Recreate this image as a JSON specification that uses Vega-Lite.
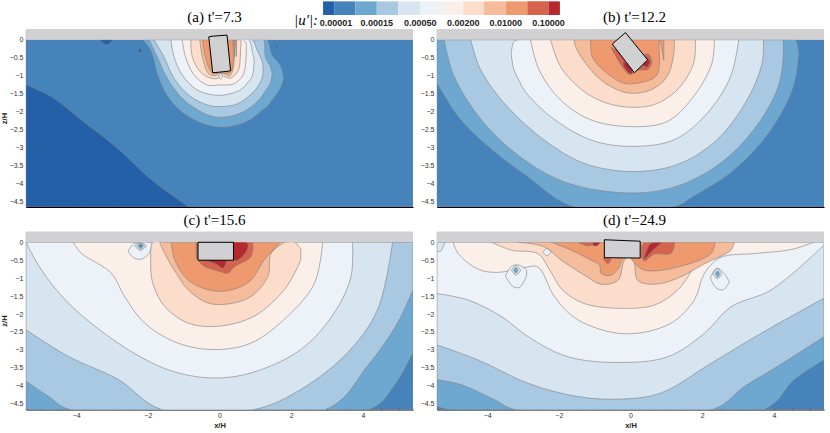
{
  "$schema": "https://vega.github.io/schema/vega-lite/v6.json",
  "padding": {"left": 0, "top": 1, "right": 7, "bottom": 2},
  "background": "white",
  "columns": 2,
  "bounds": "flush",
  "spacing": {"column": 24, "row": 24.5},
  "config": {
    "view": {"stroke": null},
    "title": {"font": "Liberation Serif", "fontSize": 15, "fontWeight": "normal", "color": "black", "offset": 4},
    "axis": {"grid": false, "domainColor": "black", "domainWidth": 1.2, "tickColor": "black", "tickWidth": 0.7, "labelFont": "Liberation Sans", "labelFontSize": 7, "labelColor": "#333333", "titleFont": "Liberation Sans", "titleFontSize": 7.5, "titleFontWeight": "bold", "titleColor": "#222222", "zindex": 1}
  },
  "datasets": {
    "band": [{"x": -5.4, "x2": 5.4, "z": 0, "t": 0.3}],
    "bar": [
      {"l":0,"x":2.89,"x2":3.2,"z":1.07,"t":0.69},{"l":1,"x":3.2,"x2":3.79,"z":1.07,"t":0.69},{"l":2,"x":3.79,"x2":4.39,"z":1.07,"t":0.69},{"l":3,"x":4.39,"x2":4.99,"z":1.07,"t":0.69},{"l":4,"x":4.99,"x2":5.6,"z":1.07,"t":0.69},{"l":5,"x":5.6,"x2":6.2,"z":1.07,"t":0.69},{"l":6,"x":6.2,"x2":6.8,"z":1.07,"t":0.69},{"l":7,"x":6.8,"x2":7.38,"z":1.07,"t":0.69},{"l":8,"x":7.38,"x2":7.99,"z":1.07,"t":0.69},{"l":9,"x":7.99,"x2":8.59,"z":1.07,"t":0.69},{"l":10,"x":8.59,"x2":9.18,"z":1.07,"t":0.69},{"l":11,"x":9.18,"x2":9.5,"z":1.07,"t":0.69}
    ],
    "barLabels": [
      {"x":3.25,"z":0.46,"label":"0.00001"},{"x":4.39,"z":0.46,"label":"0.00015"},{"x":5.6,"z":0.46,"label":"0.00050"},{"x":6.8,"z":0.46,"label":"0.00200"},{"x":7.99,"z":0.46,"label":"0.01000"},{"x":9.18,"z":0.46,"label":"0.10000"}
    ],
    "barName": [{"x":2.75,"z":0.55,"label":"|u′|:"}],
    "a": [
      {"s":0,"l":1,"x":-5.4,"z":-4.66,"t":0},{"s":0,"l":1,"x":5.4,"z":-4.66,"t":0},
      {"s":1,"l":0,"x":-5.4,"z":-4.66,"t":-1.26},{"s":1,"l":0,"x":-4.7,"z":-4.66,"t":-1.58},{"s":1,"l":0,"x":-3.8,"z":-4.66,"t":-2.28},{"s":1,"l":0,"x":-2.85,"z":-4.66,"t":-3.02},{"s":1,"l":0,"x":-1.9,"z":-4.66,"t":-3.9},{"s":1,"l":0,"x":-0.85,"z":-4.66,"t":-4.66},
      {"s":2,"l":0,"x":-3.32,"z":-0.02,"t":0},{"s":2,"l":0,"x":-3.15,"z":-0.14,"t":0},{"s":2,"l":0,"x":-2.98,"z":-0.02,"t":0},
      {"s":3,"l":0,"x":-2.27,"z":-0.3,"t":-0.3},{"s":3,"l":0,"x":-2.22,"z":-0.36,"t":-0.24},{"s":3,"l":0,"x":-2.17,"z":-0.3,"t":-0.3},
      {"s":4,"l":0,"x":1.57,"z":-0.2,"t":-0.2},{"s":4,"l":0,"x":1.6,"z":-0.24,"t":-0.16},{"s":4,"l":0,"x":1.63,"z":-0.2,"t":-0.2},
      {"s":5,"l":2,"x":-2.15,"z":0,"t":0},{"s":5,"l":2,"x":-1.92,"z":-0.29,"t":0},{"s":5,"l":2,"x":-1.74,"z":-0.93,"t":0},{"s":5,"l":2,"x":-1.55,"z":-1.4,"t":0},{"s":5,"l":2,"x":-1.18,"z":-1.9,"t":0},{"s":5,"l":2,"x":-0.71,"z":-2.23,"t":0},{"s":5,"l":2,"x":-0.16,"z":-2.42,"t":0},{"s":5,"l":2,"x":0.21,"z":-2.43,"t":0},{"s":5,"l":2,"x":0.77,"z":-2.28,"t":0},{"s":5,"l":2,"x":1.2,"z":-1.96,"t":0},{"s":5,"l":2,"x":1.33,"z":-1.86,"t":0},{"s":5,"l":2,"x":1.47,"z":-1.68,"t":-0.43},{"s":5,"l":2,"x":1.7,"z":-1.35,"t":-0.72},{"s":5,"l":2,"x":1.79,"z":-1.07,"t":-1.07},
      {"s":6,"l":3,"x":-1.97,"z":0,"t":0},{"s":6,"l":3,"x":-1.74,"z":-0.47,"t":0},{"s":6,"l":3,"x":-1.46,"z":-1.07,"t":0},{"s":6,"l":3,"x":-0.99,"z":-1.68,"t":0},{"s":6,"l":3,"x":-0.34,"z":-2.09,"t":0},{"s":6,"l":3,"x":0.03,"z":-2.16,"t":0},{"s":6,"l":3,"x":0.58,"z":-2.05,"t":0},{"s":6,"l":3,"x":1.1,"z":-1.68,"t":0},{"s":6,"l":3,"x":1.23,"z":-1.5,"t":0},{"s":6,"l":3,"x":1.28,"z":-1.42,"t":-0.47},{"s":6,"l":3,"x":1.42,"z":-1.21,"t":-0.75},{"s":6,"l":3,"x":1.47,"z":-0.95,"t":-0.95},
      {"s":7,"l":4,"x":-1.83,"z":0,"t":0},{"s":7,"l":4,"x":-1.55,"z":-0.47,"t":0},{"s":7,"l":4,"x":-1.27,"z":-1.07,"t":0},{"s":7,"l":4,"x":-0.81,"z":-1.58,"t":0},{"s":7,"l":4,"x":-0.25,"z":-1.84,"t":0},{"s":7,"l":4,"x":0.03,"z":-1.86,"t":0},{"s":7,"l":4,"x":0.49,"z":-1.79,"t":0},{"s":7,"l":4,"x":0.91,"z":-1.49,"t":0},{"s":7,"l":4,"x":1.05,"z":-1.33,"t":-0.29},{"s":7,"l":4,"x":1.19,"z":-1.07,"t":-0.6},{"s":7,"l":4,"x":1.22,"z":-0.85,"t":-0.85},
      {"s":8,"l":5,"x":-1.36,"z":0,"t":0},{"s":8,"l":5,"x":-1.27,"z":-0.47,"t":0},{"s":8,"l":5,"x":-1.04,"z":-0.98,"t":0},{"s":8,"l":5,"x":-0.62,"z":-1.4,"t":0},{"s":8,"l":5,"x":-0.16,"z":-1.54,"t":0},{"s":8,"l":5,"x":0.12,"z":-1.54,"t":0},{"s":8,"l":5,"x":0.58,"z":-1.4,"t":0},{"s":8,"l":5,"x":0.82,"z":-1.15,"t":0},{"s":8,"l":5,"x":0.91,"z":-1.03,"t":-0.3},{"s":8,"l":5,"x":0.97,"z":-0.6,"t":-0.6},
      {"s":9,"l":6,"x":-1.04,"z":0,"t":0},{"s":9,"l":6,"x":-0.95,"z":-0.47,"t":0},{"s":9,"l":6,"x":-0.71,"z":-0.98,"t":0},{"s":9,"l":6,"x":-0.34,"z":-1.26,"t":0},{"s":9,"l":6,"x":0,"z":-1.26,"t":0},{"s":9,"l":6,"x":0.4,"z":-1.23,"t":0},{"s":9,"l":6,"x":0.66,"z":-0.98,"t":0},{"s":9,"l":6,"x":0.74,"z":-0.5,"t":-0.1},{"s":9,"l":6,"x":0.75,"z":-0.2,"t":-0.2},
      {"s":10,"l":7,"x":-0.8,"z":0,"t":0},{"s":10,"l":7,"x":-0.76,"z":-0.47,"t":0},{"s":10,"l":7,"x":-0.54,"z":-0.89,"t":0},{"s":10,"l":7,"x":-0.25,"z":-1.07,"t":0},{"s":10,"l":7,"x":-0.03,"z":-1.07,"t":0},{"s":10,"l":7,"x":0.03,"z":-0.98,"t":0},{"s":10,"l":7,"x":0.3,"z":-1.07,"t":0},{"s":10,"l":7,"x":0.53,"z":-0.84,"t":0},{"s":10,"l":7,"x":0.58,"z":-0.47,"t":0},{"s":10,"l":7,"x":0.6,"z":0,"t":0},
      {"s":11,"l":8,"x":-0.55,"z":0,"t":0},{"s":11,"l":8,"x":-0.48,"z":-0.47,"t":0},{"s":11,"l":8,"x":-0.3,"z":-0.95,"t":0},{"s":11,"l":8,"x":-0.1,"z":-1,"t":0},{"s":11,"l":8,"x":0.03,"z":-0.9,"t":0},{"s":11,"l":8,"x":0.3,"z":-1,"t":0},{"s":11,"l":8,"x":0.47,"z":-0.47,"t":0},{"s":11,"l":8,"x":0.46,"z":0,"t":0},
      {"s":12,"l":9,"x":-0.47,"z":0,"t":0},{"s":12,"l":9,"x":-0.4,"z":-0.47,"t":0},{"s":12,"l":9,"x":-0.2,"z":-0.93,"t":0},{"s":12,"l":9,"x":-0.02,"z":-0.93,"t":0},{"s":12,"l":9,"x":0.32,"z":-0.9,"t":0},{"s":12,"l":9,"x":0.42,"z":-0.47,"t":0},{"s":12,"l":9,"x":0.38,"z":0,"t":0},
      {"s":13,"l":5,"x":-0.02,"z":-1.02,"t":-1.02},{"s":13,"l":5,"x":0.03,"z":-1.1,"t":-0.93},{"s":13,"l":5,"x":0.08,"z":-1.02,"t":-1.02}
    ],
    "b": [
      {"s":0,"l":1,"x":-5.4,"z":-4.66,"t":0},{"s":0,"l":1,"x":5.4,"z":-4.66,"t":0},
      {"s":1,"l":2,"x":-5.4,"z":-1.21,"t":0},{"s":1,"l":2,"x":-4.74,"z":-2.23,"t":0},{"s":1,"l":2,"x":-3.81,"z":-3.11,"t":0},{"s":1,"l":2,"x":-2.88,"z":-3.81,"t":0},{"s":1,"l":2,"x":-1.58,"z":-4.66,"t":0},{"s":1,"l":2,"x":1.21,"z":-4.66,"t":0},{"s":1,"l":2,"x":1.76,"z":-4.36,"t":0},{"s":1,"l":2,"x":2.79,"z":-3.71,"t":0},{"s":1,"l":2,"x":3.71,"z":-2.79,"t":0},{"s":1,"l":2,"x":4.36,"z":-1.77,"t":0},{"s":1,"l":2,"x":4.6,"z":-1.1,"t":0},{"s":1,"l":2,"x":4.7,"z":-0.4,"t":-0.4},
      {"s":2,"l":3,"x":-5.2,"z":0,"t":0},{"s":2,"l":3,"x":-4.92,"z":-1.03,"t":0},{"s":2,"l":3,"x":-4.09,"z":-2.32,"t":0},{"s":2,"l":3,"x":-2.97,"z":-3.34,"t":0},{"s":2,"l":3,"x":-1.76,"z":-3.99,"t":0},{"s":2,"l":3,"x":0,"z":-4.27,"t":0},{"s":2,"l":3,"x":1.3,"z":-4.08,"t":0},{"s":2,"l":3,"x":2.51,"z":-3.44,"t":0},{"s":2,"l":3,"x":3.44,"z":-2.51,"t":0},{"s":2,"l":3,"x":4.09,"z":-1.4,"t":0},{"s":2,"l":3,"x":4.25,"z":-0.66,"t":0},{"s":2,"l":3,"x":4.26,"z":0,"t":0},
      {"s":3,"l":4,"x":-4.46,"z":0,"t":0},{"s":3,"l":4,"x":-4.18,"z":-0.84,"t":0},{"s":3,"l":4,"x":-3.44,"z":-1.86,"t":0},{"s":3,"l":4,"x":-2.41,"z":-2.79,"t":0},{"s":3,"l":4,"x":-1.3,"z":-3.44,"t":0},{"s":3,"l":4,"x":0,"z":-3.67,"t":0},{"s":3,"l":4,"x":1.3,"z":-3.48,"t":0},{"s":3,"l":4,"x":2.41,"z":-2.79,"t":0},{"s":3,"l":4,"x":3.25,"z":-1.68,"t":0},{"s":3,"l":4,"x":3.67,"z":-0.66,"t":0},{"s":3,"l":4,"x":3.71,"z":0,"t":0},
      {"s":4,"l":5,"x":-3.33,"z":-0.4,"t":-0.4},{"s":4,"l":5,"x":-3.25,"z":-0.85,"t":-0.05},{"s":4,"l":5,"x":-3.1,"z":-1.15,"t":0},{"s":4,"l":5,"x":-2.97,"z":-1.4,"t":0},{"s":4,"l":5,"x":-2.23,"z":-2.14,"t":0},{"s":4,"l":5,"x":-1.11,"z":-2.79,"t":0},{"s":4,"l":5,"x":0,"z":-2.97,"t":0},{"s":4,"l":5,"x":1.21,"z":-2.79,"t":0},{"s":4,"l":5,"x":2.14,"z":-2.05,"t":0},{"s":4,"l":5,"x":2.79,"z":-1.03,"t":0},{"s":4,"l":5,"x":3.02,"z":0,"t":0},
      {"s":5,"l":6,"x":-2.79,"z":0,"t":0},{"s":5,"l":6,"x":-2.55,"z":-0.84,"t":0},{"s":5,"l":6,"x":-1.95,"z":-1.68,"t":0},{"s":5,"l":6,"x":-1.11,"z":-2.23,"t":0},{"s":5,"l":6,"x":0,"z":-2.42,"t":0},{"s":5,"l":6,"x":1.02,"z":-2.28,"t":0},{"s":5,"l":6,"x":1.76,"z":-1.58,"t":0},{"s":5,"l":6,"x":2.27,"z":-0.66,"t":0},{"s":5,"l":6,"x":2.34,"z":0,"t":0},
      {"s":6,"l":7,"x":-2.23,"z":0,"t":0},{"s":6,"l":7,"x":-1.95,"z":-0.75,"t":0},{"s":6,"l":7,"x":-1.3,"z":-1.44,"t":0},{"s":6,"l":7,"x":-0.65,"z":-1.77,"t":0},{"s":6,"l":7,"x":0,"z":-1.88,"t":0},{"s":6,"l":7,"x":0.65,"z":-1.81,"t":0},{"s":6,"l":7,"x":1.3,"z":-1.4,"t":0},{"s":6,"l":7,"x":1.76,"z":-0.66,"t":0},{"s":6,"l":7,"x":1.81,"z":0,"t":0},
      {"s":7,"l":8,"x":-1.58,"z":0,"t":0},{"s":7,"l":8,"x":-1.49,"z":-0.29,"t":0},{"s":7,"l":8,"x":-0.93,"z":-1.03,"t":0},{"s":7,"l":8,"x":-0.46,"z":-1.35,"t":0},{"s":7,"l":8,"x":0,"z":-1.49,"t":0},{"s":7,"l":8,"x":0.56,"z":-1.4,"t":0},{"s":7,"l":8,"x":1.02,"z":-1.03,"t":0},{"s":7,"l":8,"x":1.21,"z":-0.38,"t":0},{"s":7,"l":8,"x":1.22,"z":0,"t":0},
      {"s":8,"l":9,"x":-1.11,"z":0,"t":0},{"s":8,"l":9,"x":-1.07,"z":-0.47,"t":0},{"s":8,"l":9,"x":-0.65,"z":-0.94,"t":0},{"s":8,"l":9,"x":-0.19,"z":-1.21,"t":0},{"s":8,"l":9,"x":0.19,"z":-1.21,"t":0},{"s":8,"l":9,"x":0.74,"z":-0.98,"t":0},{"s":8,"l":9,"x":0.93,"z":-0.56,"t":0},{"s":8,"l":9,"x":0.8,"z":0,"t":0},
      {"s":9,"l":10,"x":-0.55,"z":-0.2,"t":-0.2},{"s":9,"l":10,"x":-0.25,"z":-0.72,"t":-0.4},{"s":9,"l":10,"x":-0.02,"z":-0.97,"t":-0.7},{"s":9,"l":10,"x":0.2,"z":-0.85,"t":-0.5},{"s":9,"l":10,"x":0.5,"z":-0.82,"t":-0.4},{"s":9,"l":10,"x":0.6,"z":-0.62,"t":-0.62},
      {"s":10,"l":11,"x":-0.2,"z":-0.72,"t":-0.6},{"s":10,"l":11,"x":-0.05,"z":-0.92,"t":-0.7},{"s":10,"l":11,"x":0.05,"z":-0.95,"t":-0.8},
      {"s":11,"l":11,"x":0.35,"z":-0.72,"t":-0.5},{"s":11,"l":11,"x":0.47,"z":-0.76,"t":-0.5},{"s":11,"l":11,"x":0.55,"z":-0.62,"t":-0.62}
    ],
    "c": [
      {"s":0,"l":1,"x":-5.4,"z":-4.66,"t":0},{"s":0,"l":1,"x":5.4,"z":-4.66,"t":0},
      {"s":1,"l":2,"x":-5.4,"z":-4.66,"t":0},{"s":1,"l":2,"x":4.18,"z":-4.66,"t":0},{"s":1,"l":2,"x":4.87,"z":-4.01,"t":0},{"s":1,"l":2,"x":5.4,"z":-3.08,"t":0},
      {"s":2,"l":3,"x":-5.4,"z":-3.87,"t":0},{"s":2,"l":3,"x":-4.78,"z":-4.29,"t":0},{"s":2,"l":3,"x":-4.18,"z":-4.66,"t":0},{"s":2,"l":3,"x":2.97,"z":-4.66,"t":0},{"s":2,"l":3,"x":4.13,"z":-3.45,"t":0},{"s":2,"l":3,"x":4.97,"z":-2.25,"t":0},{"s":2,"l":3,"x":5.4,"z":-1.32,"t":0},
      {"s":3,"l":4,"x":-5.4,"z":-2.44,"t":0},{"s":3,"l":4,"x":-4.22,"z":-3.18,"t":0},{"s":3,"l":4,"x":-2.83,"z":-3.82,"t":0},{"s":3,"l":4,"x":-1.62,"z":-4.66,"t":0},{"s":3,"l":4,"x":0.97,"z":-4.66,"t":0},{"s":3,"l":4,"x":2.27,"z":-4.1,"t":0},{"s":3,"l":4,"x":3.57,"z":-3.08,"t":0},{"s":3,"l":4,"x":4.41,"z":-1.88,"t":0},{"s":3,"l":4,"x":4.83,"z":0,"t":0},
      {"s":4,"l":5,"x":-5.4,"z":0,"t":0},{"s":4,"l":5,"x":-4.97,"z":-0.77,"t":0},{"s":4,"l":5,"x":-4.22,"z":-1.69,"t":0},{"s":4,"l":5,"x":-2.83,"z":-2.81,"t":0},{"s":4,"l":5,"x":-1.44,"z":-3.55,"t":0},{"s":4,"l":5,"x":-0.23,"z":-3.78,"t":0},{"s":4,"l":5,"x":0.88,"z":-3.64,"t":0},{"s":4,"l":5,"x":2.27,"z":-2.99,"t":0},{"s":4,"l":5,"x":3.2,"z":-1.97,"t":0},{"s":4,"l":5,"x":3.67,"z":-0.95,"t":0},{"s":4,"l":5,"x":3.71,"z":0,"t":0},
      {"s":5,"l":6,"x":-4.09,"z":0,"t":0},{"s":5,"l":6,"x":-3.85,"z":-0.31,"t":0},{"s":5,"l":6,"x":-3.02,"z":-0.86,"t":0},{"s":5,"l":6,"x":-2.65,"z":-1.51,"t":0},{"s":5,"l":6,"x":-2.09,"z":-2.25,"t":0},{"s":5,"l":6,"x":-1.16,"z":-2.81,"t":0},{"s":5,"l":6,"x":-0.14,"z":-2.99,"t":0},{"s":5,"l":6,"x":0.88,"z":-2.81,"t":0},{"s":5,"l":6,"x":1.9,"z":-2.06,"t":0},{"s":5,"l":6,"x":2.65,"z":-1.14,"t":0},{"s":5,"l":6,"x":2.88,"z":0,"t":0},
      {"s":6,"l":5,"x":-2.55,"z":-0.25,"t":-0.25},{"s":6,"l":5,"x":-2.4,"z":-0.43,"t":-0.05},{"s":6,"l":5,"x":-2.2,"z":-0.47,"t":0},{"s":6,"l":5,"x":-2,"z":-0.35,"t":0},{"s":6,"l":5,"x":-1.86,"z":-0.03,"t":-0.03},
      {"s":7,"l":4,"x":-2.37,"z":-0.1,"t":-0.1},{"s":7,"l":4,"x":-2.2,"z":-0.23,"t":0},{"s":7,"l":4,"x":-2.04,"z":-0.1,"t":-0.1},
      {"s":8,"l":3,"x":-2.3,"z":-0.1,"t":-0.1},{"s":8,"l":3,"x":-2.2,"z":-0.19,"t":-0.02},{"s":8,"l":3,"x":-2.1,"z":-0.1,"t":-0.1},
      {"s":9,"l":1,"x":-2.25,"z":-0.1,"t":-0.1},{"s":9,"l":1,"x":-2.2,"z":-0.15,"t":-0.05},{"s":9,"l":1,"x":-2.15,"z":-0.1,"t":-0.1},
      {"s":10,"l":7,"x":-1.92,"z":-0.7,"t":-0.3},{"s":10,"l":7,"x":-1.86,"z":-1.15,"t":0},{"s":10,"l":7,"x":-1.53,"z":-1.79,"t":0},{"s":10,"l":7,"x":-0.88,"z":-2.25,"t":0},{"s":10,"l":7,"x":-0.05,"z":-2.34,"t":0},{"s":10,"l":7,"x":0.97,"z":-2.06,"t":0},{"s":10,"l":7,"x":1.81,"z":-1.32,"t":0},{"s":10,"l":7,"x":2.1,"z":-0.85,"t":0},{"s":10,"l":7,"x":2.27,"z":-0.49,"t":-0.2},
      {"s":11,"l":8,"x":-1.67,"z":0,"t":0},{"s":11,"l":8,"x":-1.53,"z":-0.31,"t":0},{"s":11,"l":8,"x":-1.21,"z":-0.86,"t":0},{"s":11,"l":8,"x":-0.88,"z":-1.32,"t":0},{"s":11,"l":8,"x":-0.33,"z":-1.69,"t":0},{"s":11,"l":8,"x":0.23,"z":-1.72,"t":0},{"s":11,"l":8,"x":0.88,"z":-1.51,"t":0},{"s":11,"l":8,"x":1.35,"z":-0.95,"t":0},{"s":11,"l":8,"x":1.44,"z":-0.31,"t":0},{"s":11,"l":8,"x":1.81,"z":0,"t":0},
      {"s":12,"l":9,"x":-1.35,"z":0,"t":0},{"s":12,"l":9,"x":-1.25,"z":-0.49,"t":0},{"s":12,"l":9,"x":-0.88,"z":-1.05,"t":0},{"s":12,"l":9,"x":-0.33,"z":-1.32,"t":0},{"s":12,"l":9,"x":0.23,"z":-1.35,"t":0},{"s":12,"l":9,"x":0.84,"z":-1.09,"t":0},{"s":12,"l":9,"x":1.25,"z":-0.49,"t":0},{"s":12,"l":9,"x":1.67,"z":-0.03,"t":0},
      {"s":13,"l":10,"x":-0.65,"z":-0.44,"t":0},{"s":13,"l":10,"x":-0.44,"z":-0.66,"t":0},{"s":13,"l":10,"x":0,"z":-0.81,"t":0},{"s":13,"l":10,"x":0.23,"z":-0.86,"t":0},{"s":13,"l":10,"x":0.42,"z":-0.68,"t":0},{"s":13,"l":10,"x":0.88,"z":-0.4,"t":0},{"s":13,"l":10,"x":0.93,"z":-0.03,"t":0},
      {"s":14,"l":11,"x":-0.6,"z":-0.45,"t":0},{"s":14,"l":11,"x":-0.1,"z":-0.6,"t":0},{"s":14,"l":11,"x":0.1,"z":-0.72,"t":0},{"s":14,"l":11,"x":0.23,"z":-0.5,"t":0},{"s":14,"l":11,"x":0.5,"z":-0.5,"t":0.05},{"s":14,"l":11,"x":0.75,"z":-0.25,"t":0.03},{"s":14,"l":11,"x":0.8,"z":-0.1,"t":-0.1}
    ],
    "d": [
      {"s":0,"l":1,"x":-5.4,"z":-4.66,"t":0},{"s":0,"l":1,"x":5.4,"z":-4.66,"t":0},
      {"s":1,"l":2,"x":-5.4,"z":-4.57,"t":0},{"s":1,"l":2,"x":-5.09,"z":-4.66,"t":0},{"s":1,"l":2,"x":3.73,"z":-4.66,"t":0},{"s":1,"l":2,"x":4.57,"z":-3.83,"t":0},{"s":1,"l":2,"x":5.4,"z":-3.28,"t":0},
      {"s":2,"l":3,"x":-5.4,"z":-3.83,"t":0},{"s":2,"l":3,"x":-4.72,"z":-3.97,"t":0},{"s":2,"l":3,"x":-3.79,"z":-4.39,"t":0},{"s":2,"l":3,"x":-3.23,"z":-4.66,"t":0},{"s":2,"l":3,"x":2.29,"z":-4.66,"t":0},{"s":2,"l":3,"x":3.18,"z":-4.02,"t":0},{"s":2,"l":3,"x":4.1,"z":-3.46,"t":0},{"s":2,"l":3,"x":5.4,"z":-2.63,"t":0},
      {"s":3,"l":4,"x":-5.4,"z":-2.86,"t":0},{"s":3,"l":4,"x":-4.25,"z":-3.28,"t":0},{"s":3,"l":4,"x":-2.86,"z":-3.93,"t":0},{"s":3,"l":4,"x":-1.47,"z":-4.3,"t":0},{"s":3,"l":4,"x":-0.26,"z":-4.37,"t":0},{"s":3,"l":4,"x":0.85,"z":-4.2,"t":0},{"s":3,"l":4,"x":2.25,"z":-3.37,"t":0},{"s":3,"l":4,"x":3.64,"z":-2.54,"t":0},{"s":3,"l":4,"x":5.4,"z":-1.56,"t":0},
      {"s":4,"l":5,"x":-5.4,"z":-1.43,"t":0},{"s":4,"l":5,"x":-4.53,"z":-1.61,"t":0},{"s":4,"l":5,"x":-3.6,"z":-2.07,"t":0},{"s":4,"l":5,"x":-2.86,"z":-2.63,"t":0},{"s":4,"l":5,"x":-1.75,"z":-3.19,"t":0},{"s":4,"l":5,"x":-0.26,"z":-3.35,"t":0},{"s":4,"l":5,"x":1.04,"z":-3.19,"t":0},{"s":4,"l":5,"x":2.06,"z":-2.54,"t":0},{"s":4,"l":5,"x":2.8,"z":-1.8,"t":0},{"s":4,"l":5,"x":3.92,"z":-1.33,"t":0},{"s":4,"l":5,"x":5.4,"z":-0.08,"t":0},
      {"s":5,"l":4,"x":-5.4,"z":-0.25,"t":0},{"s":5,"l":4,"x":-5.3,"z":-0.25,"t":0},{"s":5,"l":4,"x":-5.18,"z":0,"t":0},
      {"s":6,"l":6,"x":-4.95,"z":0,"t":0},{"s":6,"l":6,"x":-4.81,"z":-0.31,"t":0},{"s":6,"l":6,"x":-4.25,"z":-0.75,"t":0},{"s":6,"l":6,"x":-3.7,"z":-0.84,"t":0},{"s":6,"l":6,"x":-2.95,"z":-0.7,"t":0},{"s":6,"l":6,"x":-2.58,"z":-0.69,"t":0},{"s":6,"l":6,"x":-2.12,"z":-1.52,"t":0},{"s":6,"l":6,"x":-1.47,"z":-2.16,"t":0},{"s":6,"l":6,"x":-0.17,"z":-2.55,"t":0},{"s":6,"l":6,"x":1.1,"z":-2.27,"t":0},{"s":6,"l":6,"x":1.78,"z":-1.61,"t":0},{"s":6,"l":6,"x":2.06,"z":-0.87,"t":0},{"s":6,"l":6,"x":2.5,"z":-0.43,"t":0},{"s":6,"l":6,"x":3.5,"z":-0.31,"t":0},{"s":6,"l":6,"x":4.5,"z":-0.2,"t":0},{"s":6,"l":6,"x":5.1,"z":0,"t":0},
      {"s":7,"l":5,"x":-3.49,"z":-0.93,"t":-0.93},{"s":7,"l":5,"x":-3.3,"z":-1.22,"t":-0.66},{"s":7,"l":5,"x":-3.1,"z":-1.26,"t":-0.64},{"s":7,"l":5,"x":-2.9,"z":-0.93,"t":-0.78},
      {"s":8,"l":4,"x":-3.32,"z":-0.78,"t":-0.78},{"s":8,"l":4,"x":-3.2,"z":-0.92,"t":-0.64},{"s":8,"l":4,"x":-3.06,"z":-0.78,"t":-0.78},
      {"s":9,"l":2,"x":-3.26,"z":-0.78,"t":-0.78},{"s":9,"l":2,"x":-3.2,"z":-0.86,"t":-0.7},{"s":9,"l":2,"x":-3.14,"z":-0.78,"t":-0.78},
      {"s":10,"l":5,"x":2.23,"z":-1,"t":-1},{"s":10,"l":5,"x":2.4,"z":-1.28,"t":-0.72},{"s":10,"l":5,"x":2.6,"z":-1.32,"t":-0.85},{"s":10,"l":5,"x":2.76,"z":-1.1,"t":-1.1},
      {"s":11,"l":4,"x":2.3,"z":-0.88,"t":-0.88},{"s":11,"l":4,"x":2.42,"z":-1.02,"t":-0.73},{"s":11,"l":4,"x":2.55,"z":-0.88,"t":-0.88},
      {"s":12,"l":2,"x":2.37,"z":-0.88,"t":-0.88},{"s":12,"l":2,"x":2.43,"z":-0.97,"t":-0.8},{"s":12,"l":2,"x":2.49,"z":-0.88,"t":-0.88},
      {"s":13,"l":7,"x":-3.88,"z":0,"t":0},{"s":13,"l":7,"x":-3.32,"z":-0.22,"t":0},{"s":13,"l":7,"x":-2.58,"z":-0.32,"t":0},{"s":13,"l":7,"x":-2.25,"z":-0.78,"t":0},{"s":13,"l":7,"x":-1.9,"z":-1.33,"t":0},{"s":13,"l":7,"x":-1.28,"z":-1.71,"t":0},{"s":13,"l":7,"x":-0.26,"z":-1.84,"t":0},{"s":13,"l":7,"x":0.67,"z":-1.75,"t":0},{"s":13,"l":7,"x":1.32,"z":-1.33,"t":0},{"s":13,"l":7,"x":1.88,"z":-0.6,"t":0},{"s":13,"l":7,"x":2.3,"z":-0.4,"t":0},{"s":13,"l":7,"x":2.9,"z":0,"t":0},
      {"s":14,"l":5,"x":-2.45,"z":-0.27,"t":-0.27},{"s":14,"l":5,"x":-2.33,"z":-0.38,"t":-0.17},{"s":14,"l":5,"x":-2.22,"z":-0.27,"t":-0.27},
      {"s":15,"l":8,"x":-3.14,"z":0,"t":0},{"s":15,"l":8,"x":-2.4,"z":-0.13,"t":0},{"s":15,"l":8,"x":-1.93,"z":-0.5,"t":0},{"s":15,"l":8,"x":-1.28,"z":-0.92,"t":0},{"s":15,"l":8,"x":-0.82,"z":-1.17,"t":0},{"s":15,"l":8,"x":-0.35,"z":-1.06,"t":0},{"s":15,"l":8,"x":-0.17,"z":-0.5,"t":0},{"s":15,"l":8,"x":-0.02,"z":-0.4,"t":0},{"s":15,"l":8,"x":0.1,"z":-0.55,"t":0},{"s":15,"l":8,"x":0.2,"z":-1.06,"t":0},{"s":15,"l":8,"x":0.67,"z":-1.17,"t":0},{"s":15,"l":8,"x":1.32,"z":-1,"t":0},{"s":15,"l":8,"x":2.06,"z":-0.6,"t":0},{"s":15,"l":8,"x":2.8,"z":-0.22,"t":0},{"s":15,"l":8,"x":2.9,"z":0,"t":0},
      {"s":16,"l":9,"x":-2.21,"z":0,"t":0},{"s":16,"l":9,"x":-1.65,"z":-0.22,"t":0},{"s":16,"l":9,"x":-1.1,"z":-0.5,"t":0},{"s":16,"l":9,"x":-0.86,"z":-0.64,"t":0},{"s":16,"l":9,"x":-0.82,"z":-0.87,"t":0},{"s":16,"l":9,"x":-0.54,"z":-0.92,"t":0},{"s":16,"l":9,"x":-0.31,"z":-0.69,"t":0},{"s":16,"l":9,"x":-0.24,"z":-0.5,"t":0},{"s":16,"l":9,"x":-0.07,"z":-0.4,"t":0},{"s":16,"l":9,"x":0.13,"z":-0.59,"t":0},{"s":16,"l":9,"x":0.39,"z":-0.78,"t":0},{"s":16,"l":9,"x":1.32,"z":-0.69,"t":0},{"s":16,"l":9,"x":2.25,"z":-0.31,"t":0},{"s":16,"l":9,"x":2.36,"z":0,"t":0},
      {"s":17,"l":10,"x":-1.47,"z":0,"t":0},{"s":17,"l":10,"x":-1.19,"z":-0.1,"t":0},{"s":17,"l":10,"x":-0.91,"z":-0.04,"t":0},
      {"s":18,"l":10,"x":-0.77,"z":-0.45,"t":-0.45},{"s":18,"l":10,"x":-0.63,"z":-0.6,"t":-0.42},{"s":18,"l":10,"x":-0.54,"z":-0.48,"t":-0.48},
      {"s":19,"l":10,"x":0.3,"z":-0.4,"t":-0.1},{"s":19,"l":10,"x":0.39,"z":-0.52,"t":-0.02},{"s":19,"l":10,"x":0.67,"z":-0.33,"t":0},{"s":19,"l":10,"x":1.13,"z":-0.31,"t":0},{"s":19,"l":10,"x":1.23,"z":-0.03,"t":0},
      {"s":20,"l":11,"x":0.39,"z":-0.48,"t":-0.4},{"s":20,"l":11,"x":0.55,"z":-0.3,"t":-0.05},{"s":20,"l":11,"x":0.7,"z":-0.15,"t":0},{"s":20,"l":11,"x":0.85,"z":-0.03,"t":0},
      {"s":21,"l":11,"x":-1.05,"z":-0.08,"t":0},{"s":21,"l":11,"x":-0.95,"z":-0.1,"t":0},{"s":21,"l":11,"x":-0.85,"z":-0.02,"t":0}
    ],
    "boxA": [{"x":-0.3,"z":0.08,"t":0.08},{"x":-0.19,"z":-0.92,"t":0.1},{"x":0.21,"z":-0.88,"t":0.13},{"x":0.31,"z":-0.86,"t":-0.86}],
    "boxB": [{"x":-0.51,"z":-0.12,"t":-0.12},{"x":-0.14,"z":-0.6,"t":0.2},{"x":0.11,"z":-0.92,"t":-0.11},{"x":0.48,"z":-0.56,"t":-0.56}],
    "boxC": [{"x":-0.6,"z":-0.5,"t":0},{"x":0.39,"z":-0.5,"t":0}],
    "boxD": [{"x":-0.73,"z":-0.43,"t":0.07},{"x":0.27,"z":-0.44,"t":0.03}]
  },
  "concat": [
    {
      "width": 387, "height": 178,
      "title": {"text": "(a) t'=7.3", "offset": -24, "dx": -5},
      "encoding": {
        "x": {"field": "x", "type": "quantitative", "scale": {"domain": [-5.4, 5.4], "nice": false, "zero": false}, "axis": {"title": null, "labels": false, "values": [-5,-4.5,-4,-3.5,-3,-2.5,-2,-1.5,-1,-0.5,0,0.5,1,1.5,2,2.5,3,3.5,4,4.5,5], "tickSize": {"condition": {"test": "datum.value%2===0", "value": -5}, "value": -2.5}}},
        "y": {"field": "z", "type": "quantitative", "stack": null, "scale": {"domain": [-4.66, 0.3], "nice": false, "zero": false}, "axis": {"title": "z/H", "titlePadding": 1, "values": [0,-0.5,-1,-1.5,-2,-2.5,-3,-3.5,-4,-4.5], "format": "~g", "tickSize": -3, "labelPadding": 6}}
      },
      "layer": [
        {
          "data": {"name": "a"},
          "mark": {"type": "area", "interpolate": "catmull-rom", "clip": true, "stroke": "#808080", "strokeWidth": 0.6},
          "encoding": {
            "y2": {"field": "t"},
            "color": {"field": "l", "type": "ordinal", "legend": null, "scale": {"domain": [0,1,2,3,4,5,6,7,8,9,10,11], "range": ["#2360a8","#4683bb","#6ea8d0","#a9c9e3","#d7e5f0","#ecf2f7","#fbefea","#fcdcca","#f5bc9c","#ef9a6e","#d6634d","#b5282e"]}},
            "detail": {"field": "s"}
          }
        },
        {
          "data": {"name": "band"},
          "mark": {"type": "rect", "color": "#d1d0d3"},
          "encoding": {"x2": {"field": "x2"}, "y2": {"field": "t"}}
        },
        {
          "data": {"name": "boxA"},
          "mark": {"type": "area", "color": "#d1d0d3", "stroke": "black", "strokeWidth": 1},
          "encoding": {"y2": {"field": "t"}}
        },
        {
          "data": {"name": "bar"},
          "mark": {"type": "rect"},
          "encoding": {"x2": {"field": "x2"}, "y2": {"field": "t"}, "color": {"field": "l", "type": "ordinal", "legend": null, "scale": {"domain": [0,1,2,3,4,5,6,7,8,9,10,11], "range": ["#2360a8","#4683bb","#6ea8d0","#a9c9e3","#d7e5f0","#ecf2f7","#fbefea","#fcdcca","#f5bc9c","#ef9a6e","#d6634d","#b5282e"]}}}
        },
        {
          "data": {"name": "barLabels"},
          "mark": {"type": "text", "font": "Liberation Sans", "fontSize": 9, "fontWeight": "bold", "color": "#222222"},
          "encoding": {"text": {"field": "label"}}
        },
        {
          "data": {"name": "barName"},
          "mark": {"type": "text", "font": "Liberation Serif", "fontSize": 15, "fontStyle": "italic", "align": "right", "color": "black"},
          "encoding": {"text": {"field": "label"}}
        }
      ]
    },
    {
      "width": 387, "height": 178,
      "title": {"text": "(b) t'=12.2", "dx": 4},
      "encoding": {
        "x": {"field": "x", "type": "quantitative", "scale": {"domain": [-5.4, 5.4], "nice": false, "zero": false}, "axis": {"title": null, "labels": false, "values": [-5,-4.5,-4,-3.5,-3,-2.5,-2,-1.5,-1,-0.5,0,0.5,1,1.5,2,2.5,3,3.5,4,4.5,5], "tickSize": {"condition": {"test": "datum.value%2===0", "value": -5}, "value": -2.5}}},
        "y": {"field": "z", "type": "quantitative", "stack": null, "scale": {"domain": [-4.66, 0.3], "nice": false, "zero": false}, "axis": {"title": null, "values": [0,-0.5,-1,-1.5,-2,-2.5,-3,-3.5,-4,-4.5], "format": "~g", "tickSize": -3, "labelPadding": 6}}
      },
      "layer": [
        {
          "data": {"name": "b"},
          "mark": {"type": "area", "interpolate": "catmull-rom", "clip": true, "stroke": "#808080", "strokeWidth": 0.6},
          "encoding": {
            "y2": {"field": "t"},
            "color": {"field": "l", "type": "ordinal", "legend": null, "scale": {"domain": [0,1,2,3,4,5,6,7,8,9,10,11], "range": ["#2360a8","#4683bb","#6ea8d0","#a9c9e3","#d7e5f0","#ecf2f7","#fbefea","#fcdcca","#f5bc9c","#ef9a6e","#d6634d","#b5282e"]}},
            "detail": {"field": "s"}
          }
        },
        {
          "data": {"name": "band"},
          "mark": {"type": "rect", "color": "#d1d0d3"},
          "encoding": {"x2": {"field": "x2"}, "y2": {"field": "t"}}
        },
        {
          "data": {"name": "boxB"},
          "mark": {"type": "area", "color": "#d1d0d3", "stroke": "black", "strokeWidth": 1},
          "encoding": {"y2": {"field": "t"}}
        }
      ]
    },
    {
      "width": 387, "height": 178,
      "title": {"text": "(c) t'=15.6", "dx": -5},
      "encoding": {
        "x": {"field": "x", "type": "quantitative", "scale": {"domain": [-5.4, 5.4], "nice": false, "zero": false}, "axis": {"title": "x/H", "titlePadding": 3, "format": "~g", "labelExpr": "datum.value%2===0 ? datum.label : ''", "labelPadding": 7, "values": [-5,-4.5,-4,-3.5,-3,-2.5,-2,-1.5,-1,-0.5,0,0.5,1,1.5,2,2.5,3,3.5,4,4.5,5], "tickSize": {"condition": {"test": "datum.value%2===0", "value": -5}, "value": -2.5}}},
        "y": {"field": "z", "type": "quantitative", "stack": null, "scale": {"domain": [-4.66, 0.3], "nice": false, "zero": false}, "axis": {"title": "z/H", "titlePadding": 1, "values": [0,-0.5,-1,-1.5,-2,-2.5,-3,-3.5,-4,-4.5], "format": "~g", "tickSize": -3, "labelPadding": 6}}
      },
      "layer": [
        {
          "data": {"name": "c"},
          "mark": {"type": "area", "interpolate": "catmull-rom", "clip": true, "stroke": "#808080", "strokeWidth": 0.6},
          "encoding": {
            "y2": {"field": "t"},
            "color": {"field": "l", "type": "ordinal", "legend": null, "scale": {"domain": [0,1,2,3,4,5,6,7,8,9,10,11], "range": ["#2360a8","#4683bb","#6ea8d0","#a9c9e3","#d7e5f0","#ecf2f7","#fbefea","#fcdcca","#f5bc9c","#ef9a6e","#d6634d","#b5282e"]}},
            "detail": {"field": "s"}
          }
        },
        {
          "data": {"name": "band"},
          "mark": {"type": "rect", "color": "#d1d0d3"},
          "encoding": {"x2": {"field": "x2"}, "y2": {"field": "t"}}
        },
        {
          "data": {"name": "boxC"},
          "mark": {"type": "area", "color": "#d1d0d3", "stroke": "black", "strokeWidth": 1},
          "encoding": {"y2": {"field": "t"}}
        }
      ]
    },
    {
      "width": 387, "height": 178,
      "title": {"text": "(d) t'=24.9", "dx": 4},
      "encoding": {
        "x": {"field": "x", "type": "quantitative", "scale": {"domain": [-5.4, 5.4], "nice": false, "zero": false}, "axis": {"title": "x/H", "titlePadding": 3, "format": "~g", "labelExpr": "datum.value%2===0 ? datum.label : ''", "labelPadding": 7, "values": [-5,-4.5,-4,-3.5,-3,-2.5,-2,-1.5,-1,-0.5,0,0.5,1,1.5,2,2.5,3,3.5,4,4.5,5], "tickSize": {"condition": {"test": "datum.value%2===0", "value": -5}, "value": -2.5}}},
        "y": {"field": "z", "type": "quantitative", "stack": null, "scale": {"domain": [-4.66, 0.3], "nice": false, "zero": false}, "axis": {"title": null, "values": [0,-0.5,-1,-1.5,-2,-2.5,-3,-3.5,-4,-4.5], "format": "~g", "tickSize": -3, "labelPadding": 6}}
      },
      "layer": [
        {
          "data": {"name": "d"},
          "mark": {"type": "area", "interpolate": "catmull-rom", "clip": true, "stroke": "#808080", "strokeWidth": 0.6},
          "encoding": {
            "y2": {"field": "t"},
            "color": {"field": "l", "type": "ordinal", "legend": null, "scale": {"domain": [0,1,2,3,4,5,6,7,8,9,10,11], "range": ["#2360a8","#4683bb","#6ea8d0","#a9c9e3","#d7e5f0","#ecf2f7","#fbefea","#fcdcca","#f5bc9c","#ef9a6e","#d6634d","#b5282e"]}},
            "detail": {"field": "s"}
          }
        },
        {
          "data": {"name": "band"},
          "mark": {"type": "rect", "color": "#d1d0d3"},
          "encoding": {"x2": {"field": "x2"}, "y2": {"field": "t"}}
        },
        {
          "data": {"name": "boxD"},
          "mark": {"type": "area", "color": "#d1d0d3", "stroke": "black", "strokeWidth": 1},
          "encoding": {"y2": {"field": "t"}}
        }
      ]
    }
  ]
}
